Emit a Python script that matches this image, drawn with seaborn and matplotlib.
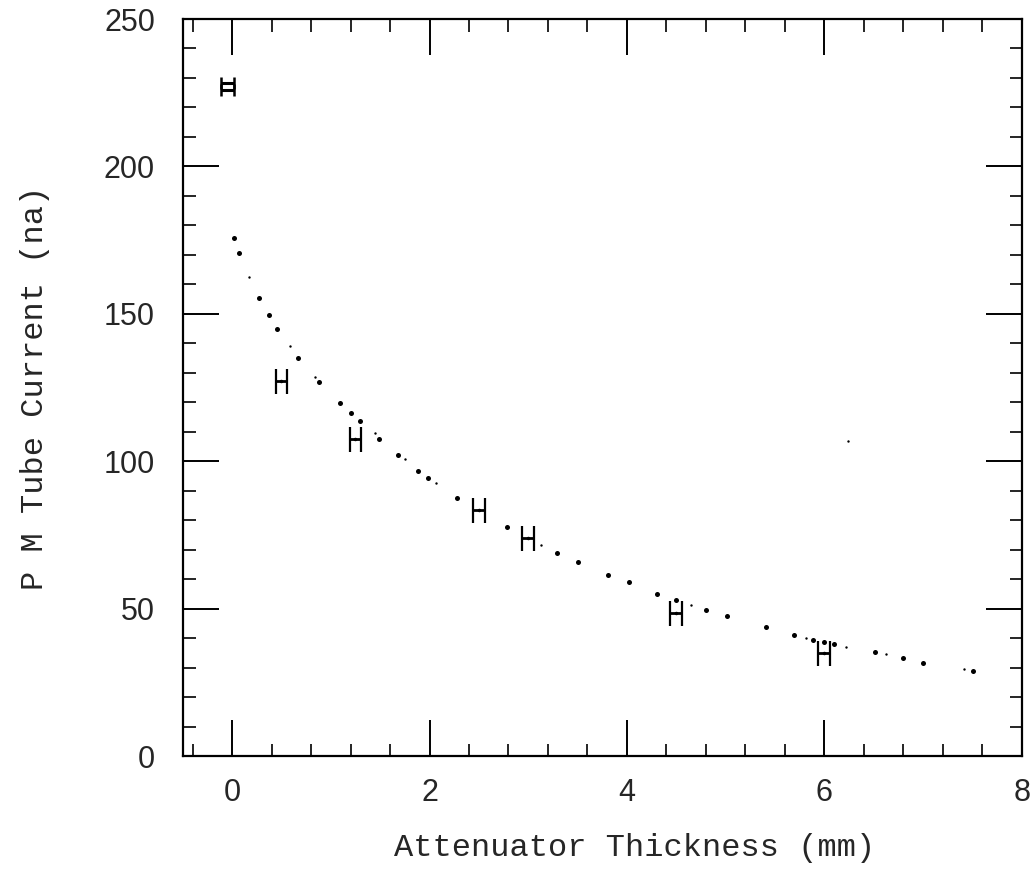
import numpy as np
import pandas as pd
import matplotlib
matplotlib.use("Agg")
import matplotlib.pyplot as plt
from matplotlib.ticker import MultipleLocator
import seaborn as sns

# measured points (with horizontal error bars)
meas_x = [-0.05, -0.05, 0.5, 1.25, 2.5, 3.0, 4.5, 6.0]
meas_y = [228.2, 225.8, 127.2, 107.5, 83.4, 73.8, 48.6, 34.8]
meas_xerr = [0.065, 0.065, 0.06, 0.06, 0.06, 0.06, 0.06, 0.06]

# dotted fit curve, bigger dots
fit_x = [0.02, 0.07, 0.27, 0.37, 0.46, 0.67, 0.88, 1.09, 1.20, 1.30, 1.49, 1.68,
         1.88, 1.98, 2.28, 2.79, 3.29, 3.50, 3.81, 4.02, 4.30, 4.50, 4.80, 5.01,
         5.41, 5.69, 5.89, 6.00, 6.10, 6.51, 6.80, 7.00, 7.51]
fit_y = [175.6, 170.5, 155.5, 149.7, 144.9, 134.9, 126.9, 119.8, 116.5, 113.6, 107.6, 102.1,
         96.8, 94.3, 87.6, 77.6, 69.0, 65.8, 61.3, 58.9, 55.0, 52.8, 49.4, 47.6,
         43.7, 41.1, 39.2, 38.6, 38.0, 35.2, 33.1, 31.5, 28.9]

# faint little specks along the curve
speck_x = [0.17, 0.59, 0.84, 1.45, 1.75, 2.07, 3.13, 4.65, 5.81, 6.22, 6.62, 7.42, 6.24]
speck_y = [162.6, 139.1, 128.5, 109.5, 100.7, 92.5, 71.6, 51.2, 40.1, 37.1, 34.5, 29.5, 107.0]

fit_df = pd.DataFrame({"x": fit_x, "y": fit_y})
speck_df = pd.DataFrame({"x": speck_x, "y": speck_y})

sns.set_style("ticks")
plt.rcParams['font.family'] = ['Liberation Sans', 'DejaVu Sans']

fig = plt.figure(figsize=(10.33, 8.72), dpi=100)
ax = fig.add_axes([0.1769, 0.1330, 0.8122, 0.8452])

sns.scatterplot(data=fit_df, x="x", y="y", ax=ax, color="black", s=13,
                linewidth=0, legend=False)
sns.scatterplot(data=speck_df, x="x", y="y", ax=ax, color="black", s=3,
                linewidth=0, legend=False)

# first (doubled) point has shorter caps
ax.errorbar(meas_x[:2], meas_y[:2], xerr=meas_xerr[:2], fmt='none', ecolor='black',
            elinewidth=2.2, capsize=4, capthick=1.8)
ax.errorbar(meas_x[2:], meas_y[2:], xerr=meas_xerr[2:], fmt='.', color='black',
            markersize=3, elinewidth=2.0, capsize=9, capthick=1.6)

ax.set_xlim(-0.5, 8)
ax.set_ylim(0, 250)
ax.xaxis.set_major_locator(MultipleLocator(2))
ax.xaxis.set_minor_locator(MultipleLocator(0.4))
ax.yaxis.set_major_locator(MultipleLocator(50))
ax.yaxis.set_minor_locator(MultipleLocator(10))

ax.tick_params(which='both', direction='in', top=True, right=True, color='black', labelsize=22)
ax.tick_params(which='major', length=26, width=1.4)
ax.tick_params(which='minor', length=9, width=1.2)
ax.tick_params(axis='x', which='major', pad=16)
ax.tick_params(axis='y', which='major', pad=20)

for sp in ax.spines.values():
    sp.set_linewidth(1.6)
    sp.set_color('black')

lab_font = dict(family='Liberation Mono', size=23)
ax.set_xlabel("Attenuator Thickness (mm)", va='center', **lab_font)
ax.set_ylabel("P M Tube Current (na)", va='center', **lab_font)
ax.xaxis.set_label_coords(0.539, -0.125)
ax.yaxis.set_label_coords(-0.176, 0.5)

fig.savefig("out.png", dpi=100, facecolor='white')
